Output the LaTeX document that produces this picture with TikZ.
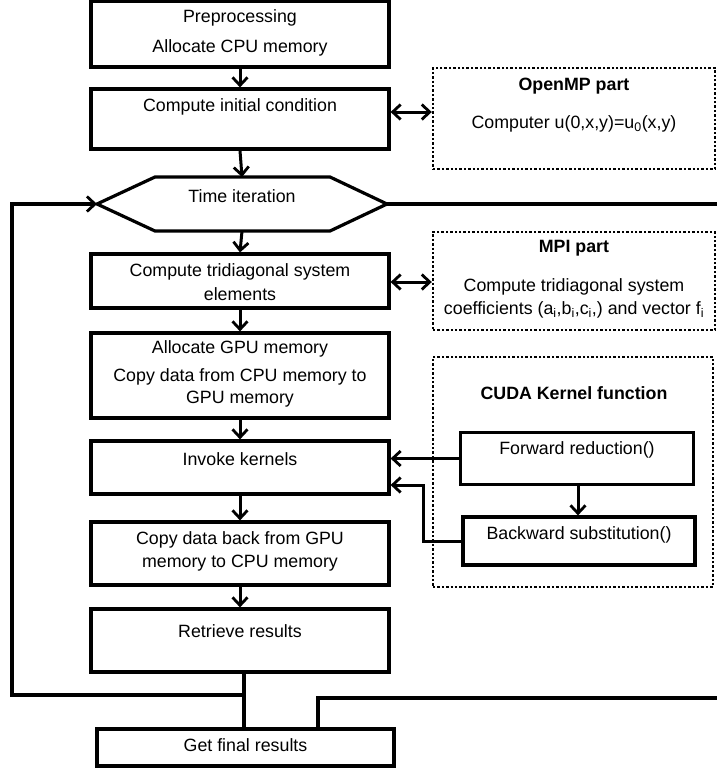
\documentclass[tikz,border=0pt]{standalone}
\usepackage{fontspec}
\setmainfont{Liberation Sans}
\usetikzlibrary{arrows.meta}
\begin{document}
\begin{tikzpicture}[x=1pt,y=-1pt,
  box/.style={draw, line width=3.2pt, rectangle, inner sep=0pt},
  dbox/.style={draw, line width=2.4pt, dash pattern=on 2.4pt off 2pt, rectangle, inner sep=0pt},
  txt/.style={font=\fontsize{17.8}{20}\selectfont, inner sep=0pt, anchor=center},
  ttl/.style={font=\fontsize{17.8}{20}\selectfont\bfseries, inner sep=0pt, anchor=center},
  wire/.style={line width=3.2pt},
  tip/.tip={Straight Barb[length=8pt,width=15pt,line width=2.8pt]},
  arr/.style={line width=3pt, -tip},
  darr/.style={line width=3pt, tip-tip}]
\useasboundingbox (0,0) rectangle (716,769);
\fill[white] (0,0) rectangle (716,769);

% main column boxes
\node[box, minimum width=298pt, minimum height=66pt] (b1) at (240,34) {};
\node[txt] (t1a) at (240,18) {Preprocessing};
\node[txt] (t1b) at (240,48) {Allocate CPU memory};

\node[box, minimum width=298pt, minimum height=60pt] (b2) at (240,119) {};
\node[txt] (t2) at (240,107) {Compute initial condition};

% hexagon
\coordinate (hexL) at (97,204);
\coordinate (hexR) at (387,204);
\coordinate (hexT) at (242,177);
\coordinate (hexB) at (242,231);
\draw[wire, line join=miter] (hexL) -- (155,177) -- (330,177) -- (hexR) -- (330,231) -- (155,231) -- cycle;
\node[txt] (th) at (242,196) {Time iteration};

\node[box, minimum width=298pt, minimum height=54pt] (b3) at (240,281) {};
\node[txt] (t3a) at (240,272) {Compute tridiagonal system};
\node[txt] (t3b) at (240,294) {elements};

\node[box, minimum width=298pt, minimum height=85pt] (b4) at (240,375.5) {};
\node[txt] (t4a) at (240,349) {Allocate GPU memory};
\node[txt] (t4b) at (240,377) {Copy data from CPU memory to};
\node[txt] (t4c) at (240,399) {GPU memory};

\node[box, minimum width=298pt, minimum height=53pt] (b5) at (240,467.5) {};
\node[txt] (t5) at (240,459) {Invoke kernels};

\node[box, minimum width=298pt, minimum height=63pt] (b6) at (240,553.5) {};
\node[txt] (t6a) at (240,540) {Copy data back from GPU};
\node[txt] (t6b) at (240,563) {memory to CPU memory};

\node[box, minimum width=298pt, minimum height=63pt] (b7) at (240,640.5) {};
\node[txt] (t7) at (240,631) {Retrieve results};

\node[box, minimum width=297pt, minimum height=37pt] (fin) at (245.5,747.5) {};
\node[txt] (tf) at (245.5,745) {Get final results};

% right side dotted boxes
\node[dbox, minimum width=282pt, minimum height=101pt] (omp) at (574,118.5) {};
\node[ttl] (tomp) at (574,86) {OpenMP part};
\node[txt] (tomp2) at (574,124) {Computer u(0,x,y)=u\textsubscript{0}(x,y)};

\node[dbox, minimum width=282pt, minimum height=98pt] (mpi) at (574,281) {};
\node[ttl] (tmpi) at (574,248) {MPI part};
\node[txt] (tmpi2) at (574,287) {Compute tridiagonal system};
\node[txt] (tmpi3) at (574,310) {coefficients (a\textsubscript{i},b\textsubscript{i},c\textsubscript{i},) and vector f\textsubscript{i}};

\node[dbox, minimum width=280pt, minimum height=230pt] (cuda) at (573,472) {};
\node[ttl] (tcuda) at (574,393) {CUDA Kernel function};
\node[box, minimum width=233pt, minimum height=52pt] (fw) at (577,458.5) {};
\node[txt] (tfw) at (577,450) {Forward reduction()};
\node[box, minimum width=232pt, minimum height=48pt] (bw) at (579,541) {};
\node[txt] (tbw) at (579,535) {Backward substitution()};

% vertical flow arrows
\draw[arr] (b1.south) -- (b2.north);
\draw[arr] (b2.south) -- (hexT);
\draw[arr] (hexB) -- (b3.north);
\draw[arr] (b3.south) -- (b4.north);
\draw[arr] (b4.south) -- (b5.north);
\draw[arr] (b5.south) -- (b6.north);
\draw[arr] (b6.south) -- (b7.north);

% double arrows to side parts
\coordinate (ompy) at (0,112);
\coordinate (mpiy) at (0,282);
\draw[darr] (b2.east |- ompy) -- (omp.west |- ompy);
\draw[darr] (b3.east |- mpiy) -- (mpi.west |- mpiy);

% kernel arrows
\draw[arr] (fw.west) -- (fw.west -| b5.east);
\draw[arr] (fw.south -| 578,0) -- (bw.north -| 578,0);
\coordinate (bwk) at (423,485);
\draw[arr] (bw.west) -- (bw.west -| bwk) -- (bwk) -- (bwk -| b5.east);

% loop back and exits
\coordinate (loopJ) at (244,695);
\coordinate (loopL) at (12,695);
\draw[wire] (b7.south -| loopJ) -- (fin.north -| loopJ);
\draw[wire, -tip] (loopJ) -- (loopL) -- (loopL |- hexL) -- (hexL);
\coordinate (rightTop) at (717,204);
\coordinate (rightBot) at (717,698);
\coordinate (rightJ) at (318,698);
\draw[wire] (hexR) -- (rightTop);
\draw[wire] (rightBot) -- (rightJ) -- (fin.north -| rightJ);
\end{tikzpicture}
\end{document}
